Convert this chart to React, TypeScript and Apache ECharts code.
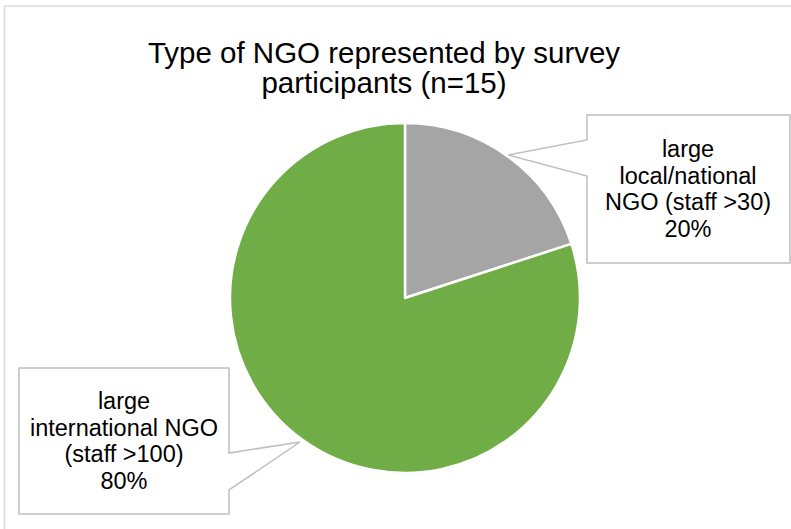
import React, { useEffect, useRef } from "react";
import * as echarts from "echarts";

const titleText = "Type of NGO represented by survey\nparticipants (n=15)";
const categories = [
  "large\nlocal/national\nNGO (staff >30)",
  "large\ninternational NGO\n(staff >100)",
];
const counts = [3, 12];
const colors = ["#A5A5A5", "#70AD47"];
const labelCenters = [
  [688, 189],
  [124, 441],
];

export default function App() {
  const ref = useRef<HTMLDivElement>(null);
  useEffect(() => {
    if (!ref.current) return;
    const chart = echarts.init(ref.current, null, { renderer: "svg" });
    const font = "'Liberation Sans', Arial, sans-serif";
    chart.setOption({
      animation: false,
      backgroundColor: "#ffffff",
      title: {
        text: titleText,
        left: 384,
        textAlign: "center",
        top: 37,
        padding: 0,
        textStyle: {
          fontFamily: font,
          fontSize: 29.5,
          fontWeight: "normal",
          lineHeight: 30,
          color: "#000000",
        },
      },
      graphic: [
        {
          type: "rect",
          z: -10,
          silent: true,
          shape: { x: 4.5, y: 6, width: 820, height: 600 },
          style: { fill: "none", stroke: "#d9d9d9", lineWidth: 1.5 },
        },
        {
          type: "polygon",
          z: 1,
          silent: true,
          shape: {
            points: [
              [587, 115],
              [790, 115],
              [790, 263],
              [587, 263],
              [587, 176],
              [508, 155],
              [587, 140],
            ],
          },
          style: { fill: "#ffffff", stroke: "#bfbfbf", lineWidth: 1.5 },
        },
        {
          type: "polygon",
          z: 1,
          silent: true,
          shape: {
            points: [
              [19, 368],
              [229, 368],
              [229, 453],
              [300, 442],
              [229, 490],
              [229, 514],
              [19, 514],
            ],
          },
          style: { fill: "#ffffff", stroke: "#bfbfbf", lineWidth: 1.5 },
        },
      ],
      series: [
        {
          type: "pie",
          center: [405, 298],
          radius: 175,
          startAngle: 90,
          clockwise: true,
          avoidLabelOverlap: false,
          z: 5,
          itemStyle: { borderColor: "#ffffff", borderWidth: 2.5 },
          label: {
            show: true,
            formatter: "{b}\n{d}%",
            fontFamily: font,
            fontSize: 23.5,
            lineHeight: 26.5,
            color: "#000000",
            align: "center",
          },
          labelLine: { show: false },
          labelLayout: (p: any) => ({
            x: labelCenters[p.dataIndex][0],
            y: labelCenters[p.dataIndex][1],
            align: "center",
            verticalAlign: "middle",
          }),
          emphasis: { disabled: true },
          data: categories.map((c, i) => ({
            name: c,
            value: counts[i],
            itemStyle: { color: colors[i] },
          })),
        },
      ],
    });
    return () => chart.dispose();
  }, []);
  return (
    <div
      ref={ref}
      style={{ position: "fixed", left: 0, top: 0, width: 791, height: 529 }}
    />
  );
}
